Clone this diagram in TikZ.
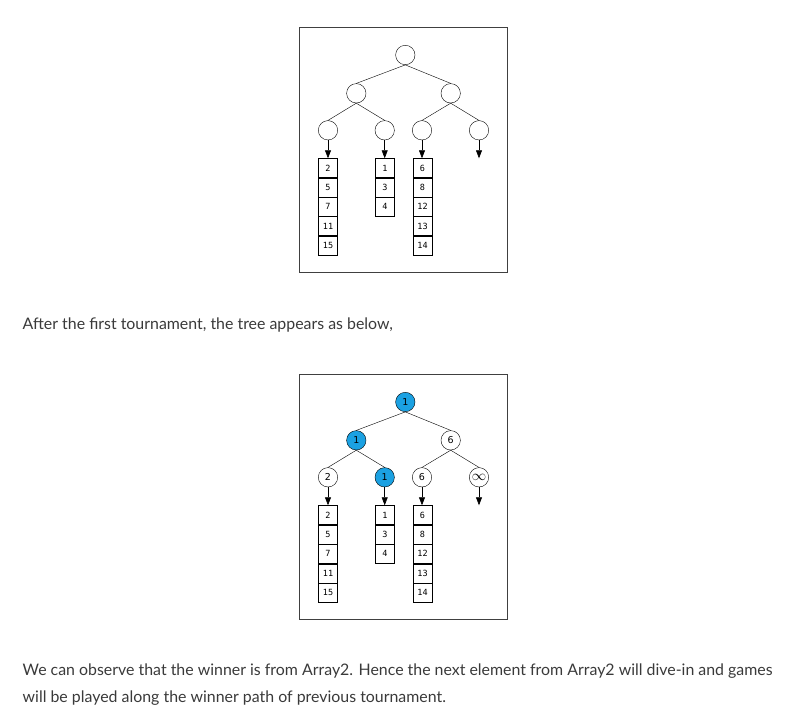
\documentclass[tikz,border=0pt]{standalone}
\usepackage{fontspec}
\setmainfont{Lato}
\setsansfont{DejaVu Sans}
\setmonofont{DejaVu Sans Mono}
\usepackage{tikz}
\usetikzlibrary{arrows.meta,positioning}
\definecolor{winblue}{HTML}{1BA1E2}
\definecolor{bodygray}{HTML}{3A3A3A}
\definecolor{framegray}{HTML}{404040}

\tikzset{
  tnode/.style={draw, circle, thin, minimum size=19.4pt, inner sep=0pt, font=\sffamily\fontsize{9.5}{10}\selectfont},
  winnode/.style={tnode, fill=winblue},
  cell/.style={draw, thin, minimum width=18.7pt, minimum height=19pt, inner sep=0pt, font=\ttfamily\fontsize{8.5}{9}\selectfont},
  feed/.style={-{Triangle[width=6pt,length=8pt]}, semithick},
  frame/.style={draw=framegray, line width=0.8pt},
  para/.style={anchor=base west, inner sep=0pt, text=bodygray, font=\fontsize{15.9}{18}\selectfont}
}

\begin{document}
\begin{tikzpicture}[x=1pt, y=-1pt]
\useasboundingbox (0,0) rectangle (809,714);

% first tree: empty players
\draw[frame] (299,27) rectangle (507,272);
\node[tnode] (a) at (405.3,55) {};
\node[tnode] (a1) at (356.3,93.3) {};
\node[tnode] (a2) at (450.7,93.3) {};
\node[tnode] (a11) at (328,130.3) {};
\node[tnode] (a12) at (384.7,130.3) {};
\node[tnode] (a21) at (422,130.3) {};
\node[tnode] (a22) at (479,130.3) {};
\draw (a.south) -- (a1.north);
\draw (a.south) -- (a2.north);
\draw (a1.south) -- (a11.north);
\draw (a1.south) -- (a12.north);
\draw (a2.south) -- (a21.north);
\draw (a2.south) -- (a22.north);

\node[cell, anchor=north] (p1) at (328,158.3) {2};
\node[cell, below=0pt of p1] (p2) {5};
\node[cell, below=0pt of p2] (p3) {7};
\node[cell, below=0pt of p3] (p4) {11};
\node[cell, below=0pt of p4] (p5) {15};
\node[cell, anchor=north] (q1) at (385,158.3) {1};
\node[cell, below=0pt of q1] (q2) {3};
\node[cell, below=0pt of q2] (q3) {4};
\node[cell, anchor=north] (r1) at (422.5,158.3) {6};
\node[cell, below=0pt of r1] (r2) {8};
\node[cell, below=0pt of r2] (r3) {12};
\node[cell, below=0pt of r3] (r4) {13};
\node[cell, below=0pt of r4] (r5) {14};
\coordinate (s1) at (479,158.3);
\draw[feed] (a11) -- (a11 |- p1.north);
\draw[feed] (a12) -- (a12 |- q1.north);
\draw[feed] (a21) -- (a21 |- r1.north);
\draw[feed] (a22) -- (s1);

\node[para] (txa) at (22.5,329) {After the first tournament, the tree appears as below,};

% second tree: after the first tournament
\draw[frame] (299,374) rectangle (507,619);
\node[winnode] (b) at (405.3,402) {1};
\node[winnode] (b1) at (356.3,440.3) {1};
\node[tnode] (b2) at (450.7,440.3) {6};
\node[tnode] (b11) at (328,477.3) {2};
\node[winnode] (b12) at (384.7,477.3) {1};
\node[tnode] (b21) at (422,477.3) {6};
\node[tnode, font=\fontsize{14}{14}\selectfont] (b22) at (479,477.3) {$\infty$};
\draw (b.south) -- (b1.north);
\draw (b.south) -- (b2.north);
\draw (b1.south) -- (b11.north);
\draw (b1.south) -- (b12.north);
\draw (b2.south) -- (b21.north);
\draw (b2.south) -- (b22.north);

\node[cell, anchor=north] (u1) at (328,505.3) {2};
\node[cell, below=0pt of u1] (u2) {5};
\node[cell, below=0pt of u2] (u3) {7};
\node[cell, below=0pt of u3] (u4) {11};
\node[cell, below=0pt of u4] (u5) {15};
\node[cell, anchor=north] (v1) at (385,505.3) {1};
\node[cell, below=0pt of v1] (v2) {3};
\node[cell, below=0pt of v2] (v3) {4};
\node[cell, anchor=north] (w1) at (422.5,505.3) {6};
\node[cell, below=0pt of w1] (w2) {8};
\node[cell, below=0pt of w2] (w3) {12};
\node[cell, below=0pt of w3] (w4) {13};
\node[cell, below=0pt of w4] (w5) {14};
\coordinate (t1) at (479,505.3);
\draw[feed] (b11) -- (b11 |- u1.north);
\draw[feed] (b12) -- (b12 |- v1.north);
\draw[feed] (b21) -- (b21 |- w1.north);
\draw[feed] (b22) -- (t1);

\node[para] (txb) at (22.5,675.5) {We can observe that the winner is from Array2. Hence the next element from Array2 will dive-in and games};
\node[para] (txc) at (22.5,702.5) {will be played along the winner path of previous tournament.};
\end{tikzpicture}
\end{document}
